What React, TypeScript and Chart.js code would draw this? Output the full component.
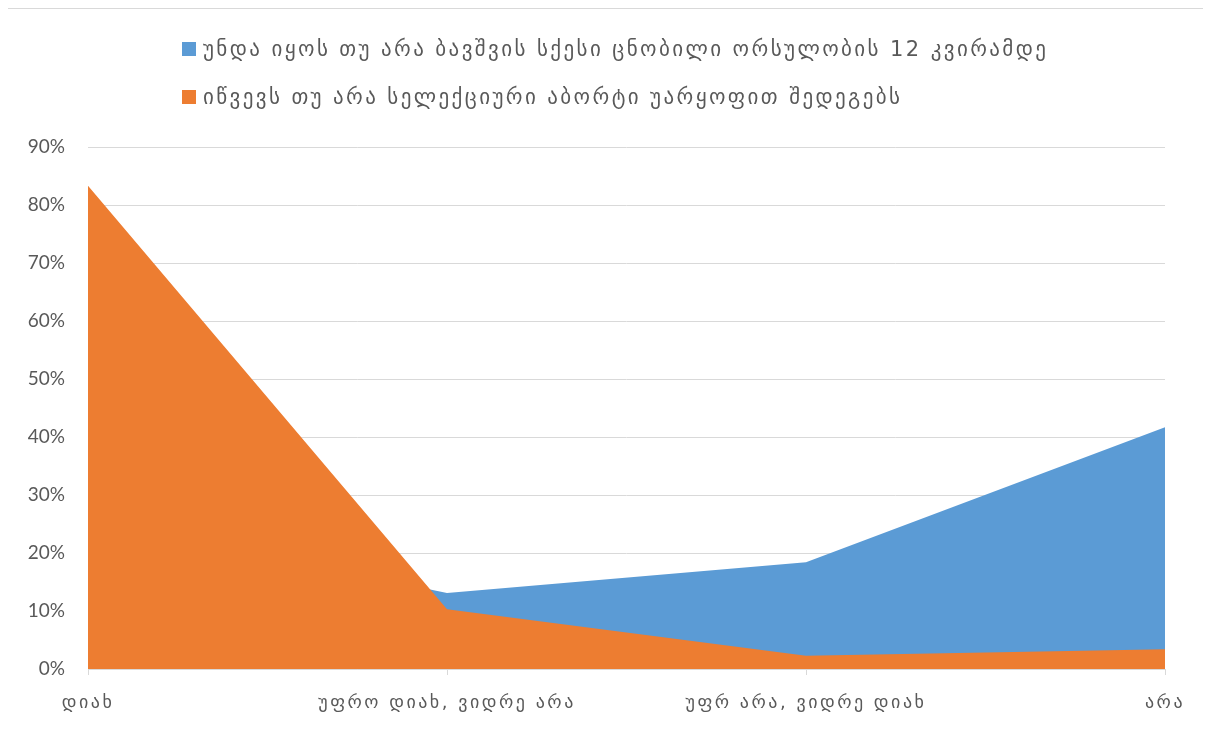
import React, { useEffect, useRef } from "react";
import { Chart, registerables } from "chart.js";

Chart.register(...registerables);

const categories = ["დიახ", "უფრო დიახ, ვიდრე არა", "უფრ არა, ვიდრე დიახ", "არა"];
const seriesNames = [
  "უნდა იყოს თუ არა ბავშვის სქესი ცნობილი ორსულობის 12 კვირამდე",
  "იწვევს თუ არა სელექციური აბორტი უარყოფით შედეგებს",
];
const blueValues = [26, 13.1, 18.4, 41.7];
const orangeValues = [83.3, 10.3, 2.3, 3.4];
const yTicks = [0, 10, 20, 30, 40, 50, 60, 70, 80, 90];

const BLUE = "#5B9BD5";
const ORANGE = "#ED7D31";
const GEO_FONT = "'DejaVu Sans', 'Noto Sans', sans-serif";

const spacingPlugin = {
  id: "xLabelSpacing",
  afterUpdate(chart: any) {
    const xs = chart.scales.x;
    if (!xs || xs.__wrapped) return;
    const orig = xs.drawLabels.bind(xs);
    xs.drawLabels = (ca: any) => {
      const ctx = chart.ctx;
      ctx.save();
      ctx.letterSpacing = "2.5px";
      orig(ca);
      ctx.restore();
    };
    xs.__wrapped = true;
  },
};

export default function App() {
  const ref = useRef<HTMLCanvasElement | null>(null);

  useEffect(() => {
    if (!ref.current) return;
    const chart = new Chart(ref.current, {
      type: "line",
      data: {
        labels: categories,
        datasets: [
          {
            label: seriesNames[0],
            data: blueValues,
            backgroundColor: BLUE,
            borderColor: BLUE,
            borderWidth: 0,
            pointRadius: 0,
            fill: "origin",
            tension: 0,
            order: 2,
          },
          {
            label: seriesNames[1],
            data: orangeValues,
            backgroundColor: ORANGE,
            borderColor: ORANGE,
            borderWidth: 0,
            pointRadius: 0,
            fill: "origin",
            tension: 0,
            order: 1,
          },
        ],
      },
      options: {
        animation: false,
        responsive: false,
        maintainAspectRatio: false,
        layout: { padding: { top: 138, right: 46, bottom: 0, left: 0 } },
        plugins: {
          legend: { display: false },
          tooltip: { enabled: false },
        },
        scales: {
          x: {
            offset: false,
            grid: {
              drawOnChartArea: false,
              drawTicks: true,
              tickLength: 6,
              color: "#d9d9d9",
            },
            border: { display: true, color: "#d9d9d9", width: 1 },
            ticks: {
              color: "#595959",
              font: { family: GEO_FONT, size: 18 },
              padding: 18,
              maxRotation: 0,
              autoSkip: false,
            },
            afterFit: (s: any) => {
              s.height = 61;
            },
          },
          y: {
            min: 0,
            max: 90,
            afterBuildTicks: (s: any) => {
              s.ticks = yTicks.map((v) => ({ value: v }));
            },
            grid: { color: "#d9d9d9", drawTicks: false, lineWidth: 1 },
            border: { display: false },
            ticks: {
              color: "#595959",
              font: { family: "Lato, 'Open Sans', sans-serif", size: 19 },
              padding: 23,
              callback: (v: any) => `${v}%`,
            },
            afterFit: (s: any) => {
              s.width = 81;
            },
          },
        },
      },
      plugins: [spacingPlugin],
    });
    return () => chart.destroy();
  }, []);

  const legendItem = (color: string, text: string, top: number) => (
    <div
      style={{
        position: "absolute",
        left: 175,
        top,
        display: "flex",
        alignItems: "center",
        whiteSpace: "nowrap",
      }}
    >
      <span
        style={{
          display: "inline-block",
          width: 14,
          height: 14,
          background: color,
          marginRight: 7,
        }}
      />
      <span
        style={{
          fontFamily: GEO_FONT,
          fontSize: 21,
          letterSpacing: "2.4px",
          color: "#595959",
          lineHeight: "14px",
        }}
      >
        {text}
      </span>
    </div>
  );

  return (
    <div
      style={{
        position: "relative",
        marginLeft: -2,
        width: 1204,
        height: 721,
        borderLeft: "1px solid #d9d9d9",
        borderTop: "1px solid #d9d9d9",
        overflow: "hidden",
      }}
    >
      <canvas ref={ref} width={1204} height={721} style={{ display: "block" }} />
      {legendItem(BLUE, seriesNames[0], 33)}
      {legendItem(ORANGE, seriesNames[1], 81)}
    </div>
  );
}
